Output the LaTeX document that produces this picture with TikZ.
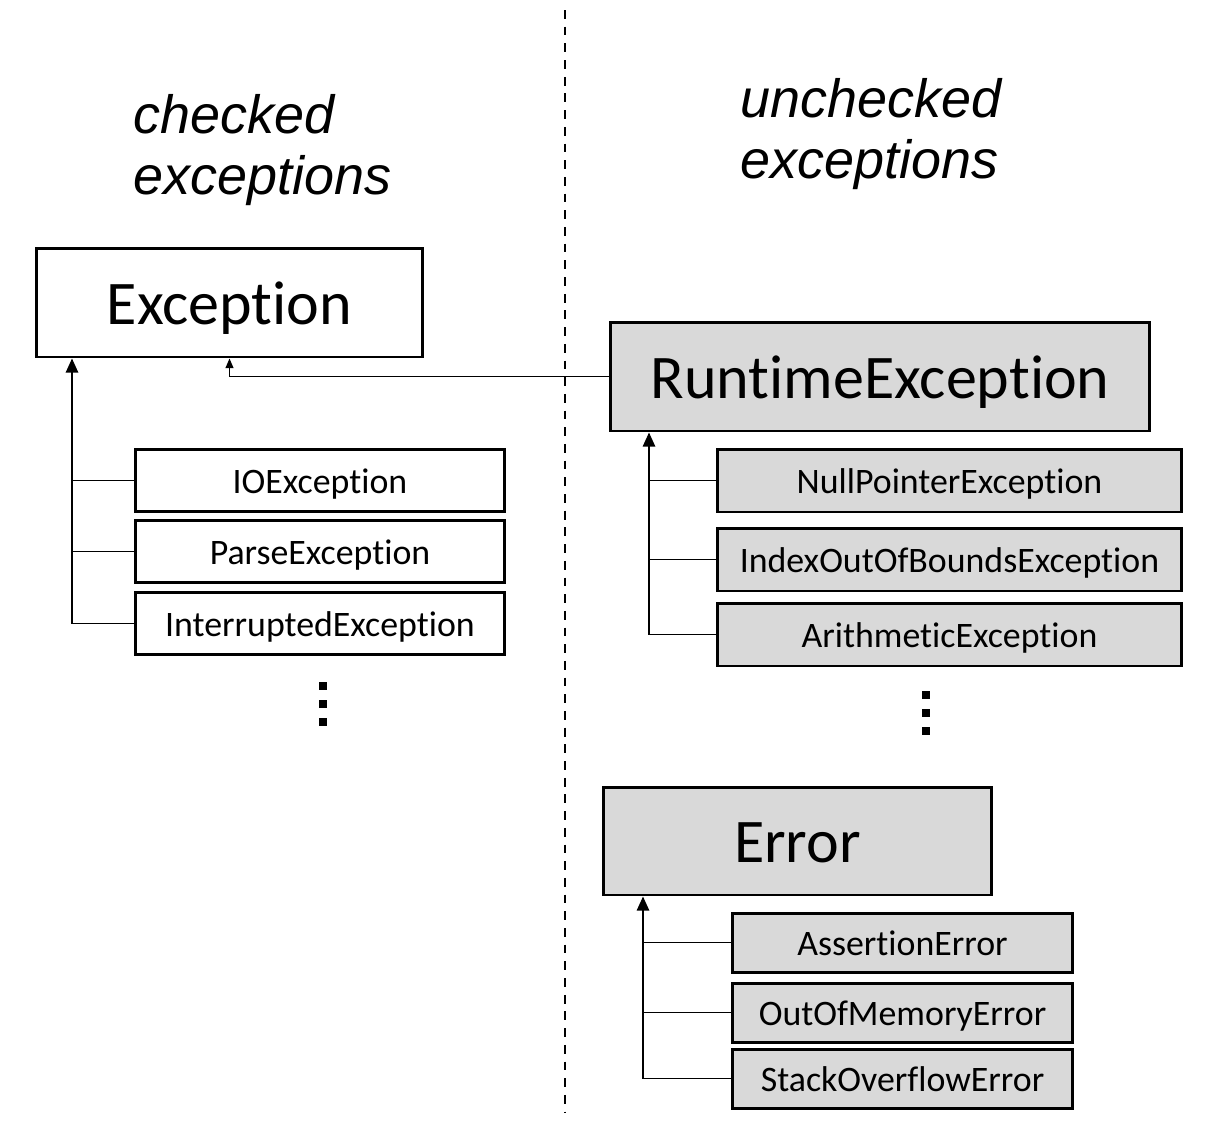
\documentclass[tikz,border=0pt]{standalone}
\usepackage{fontspec}
\setmainfont{Carlito}[Ligatures=NoCommon]
\newfontfamily\headfont{Liberation Sans}
\usetikzlibrary{arrows.meta}
\definecolor{boxgray}{RGB}{217,217,217}
\newcommand{\dotsq}[2]{%
  \fill (#1-4,#2-4) rectangle (#1+4,#2+4);
  \fill (#1-4,#2+14) rectangle (#1+4,#2+22);
  \fill (#1-4,#2+32) rectangle (#1+4,#2+40);}
\tikzset{
  cls/.style={draw=black, line width=1.7pt, inner sep=0pt, fill=white, text depth=0pt},
  bigcls/.style={cls, minimum width=#1, minimum height=2.18cm, text height=24.5pt,
    font=\fontsize{35.3}{40}\selectfont},
  subcls/.style={cls, minimum height=1.24cm, text height=14.4pt,
    font=\fontsize{20.4}{24}\selectfont},
  gray/.style={fill=boxgray},
  heading/.style={align=left, inner sep=0pt, anchor=north west,
    font=\headfont\itshape\fontsize{30.7}{35}\selectfont},
  tick/.style={line width=1pt},
  inh/.style={line width=1pt, -{Triangle[width=7pt,length=8pt]}},
  thininh/.style={line width=0.8pt, -{Triangle[width=4.5pt,length=5.5pt]}},
}
\begin{document}
\begin{tikzpicture}[x=0.02cm, y=-0.02cm]
\useasboundingbox (0,0) rectangle (1224,1120);
\draw[line width=0.9pt, dash pattern=on 5pt off 4.5pt] (565,10) -- (565,1112);

% headings
\node[heading] (hchk) at (133,94) {checked\\exceptions};
\node[heading] (hunc) at (740,78) {unchecked\\exceptions};

% checked side
\node[bigcls=7.74cm] (exc) at (229.5,302.5) {Exception};
\node[subcls, minimum width=7.4cm] (io) at (320,480.5) {IOException};
\node[subcls, minimum width=7.4cm] (parse) at (320,551.5) {ParseException};
\node[subcls, minimum width=7.4cm] (intr) at (320,623.5) {InterruptedException};
\dotsq{323}{686}

% unchecked side
\node[bigcls=10.8cm, gray] (rte) at (880,376.5) {RuntimeException};
\node[subcls, gray, minimum width=9.3cm, minimum height=1.26cm] (npe) at (949.5,480.5) {NullPointerException};
\node[subcls, gray, minimum width=9.3cm, minimum height=1.26cm] (ioobe) at (949.5,559.5) {IndexOutOfBoundsException};
\node[subcls, gray, minimum width=9.3cm, minimum height=1.26cm] (arith) at (949.5,634.5) {ArithmeticException};
\dotsq{926}{695}

\node[bigcls=7.78cm, gray, minimum height=2.16cm] (err) at (797.5,841) {Error};
\node[subcls, gray, minimum width=6.82cm, minimum height=1.18cm] (asrt) at (902.5,942.5) {AssertionError};
\node[subcls, gray, minimum width=6.82cm, minimum height=1.18cm] (oom) at (902.5,1012.5) {OutOfMemoryError};
\node[subcls, gray, minimum width=6.82cm, minimum height=1.18cm] (soe) at (902.5,1078.5) {StackOverflowError};

% inheritance lines
\coordinate (lt) at (72,0);
\coordinate (rt) at (649,0);
\coordinate (et) at (643,0);
\draw[inh] (intr.west) -| (lt |- exc.south);
\draw[tick] (io.west) -- (io.west -| lt);
\draw[tick] (parse.west) -- (parse.west -| lt);
\draw[thininh] (rte.west) -| (exc.south);
\draw[inh] (arith.west) -| (rt |- rte.south);
\draw[tick] (npe.west) -- (npe.west -| rt);
\draw[tick] (ioobe.west) -- (ioobe.west -| rt);
\draw[inh] (soe.west) -| (et |- err.south);
\draw[tick] (asrt.west) -- (asrt.west -| et);
\draw[tick] (oom.west) -- (oom.west -| et);
\end{tikzpicture}
\end{document}
